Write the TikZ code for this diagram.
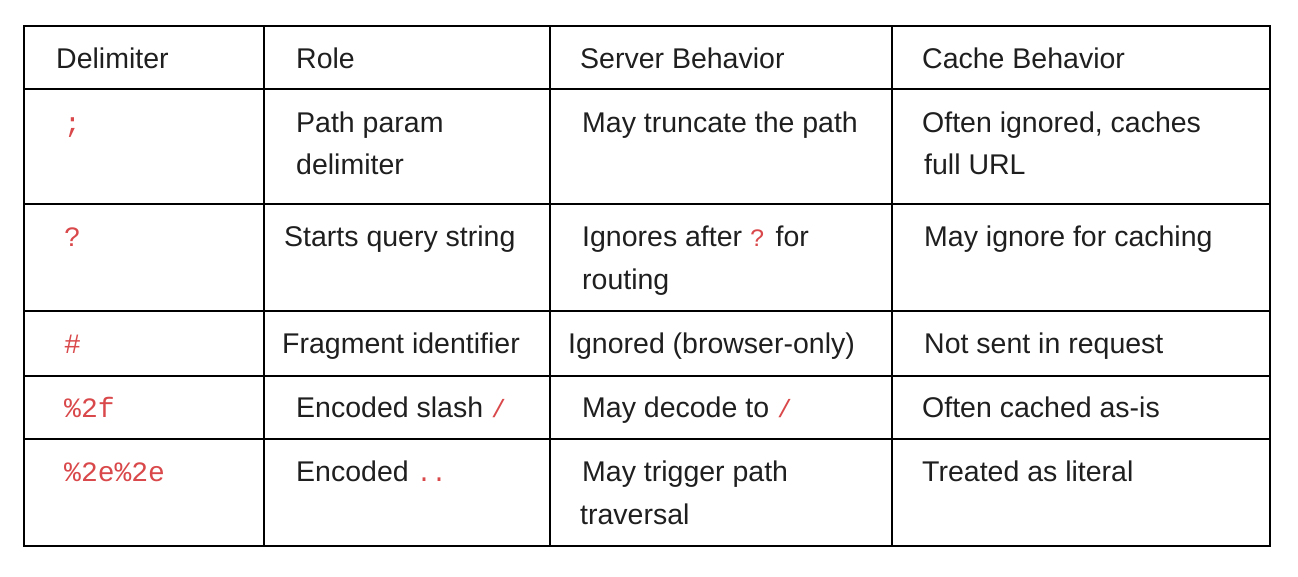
\documentclass[tikz,border=0pt]{standalone}
\usepackage{fontspec}
\setmainfont{Liberation Sans}
\setmonofont{Liberation Mono}
\definecolor{codered}{HTML}{D9484A}
\newcommand{\cd}[1]{{\ttfamily\fontsize{25}{28}\selectfont\color{codered}#1}}
\newcommand{\cdb}[1]{{\ttfamily\fontsize{28}{30}\selectfont\color{codered}#1}}
\begin{document}
\begin{tikzpicture}[x=1pt,y=-1pt,
  cell/.style={anchor=base west,inner sep=0pt,font=\fontsize{28.5}{32}\selectfont,text=black!88},
  grid/.style={draw=black,line width=1.6pt}]
\useasboundingbox (0,0) rectangle (1298,576);
\draw[grid] (24,26) rectangle (1270,546);
\foreach \x in {264,550,892} \draw[grid] (\x,26) -- (\x,546);
\foreach \y in {89,204,311,376,439} \draw[grid] (24,\y) -- (1270,\y);
% header
\node[cell] (h1) at (56,68) {Delimiter};
\node[cell] (h2) at (296,68) {Role};
\node[cell] (h3) at (580,68) {Server Behavior};
\node[cell] (h4) at (922,68) {Cache Behavior};
% row 1
\node[cell] (a1) at (64,132) {\cdb{;}};
\node[cell] (a2) at (296,132) {Path param};
\node[cell] (a2b) at (296,174) {delimiter};
\node[cell] (a3) at (582,132) {May truncate the path};
\node[cell] (a4) at (922,132) {Often ignored, caches};
\node[cell] (a4b) at (924,174) {full URL};
% row 2
\node[cell] (b1) at (64,246) {\cdb{?}};
\node[cell] (b2) at (284,246) {Starts query string};
\node[cell] (b3) at (582,246) {Ignores after \cd{?} for};
\node[cell] (b3b) at (582,289) {routing};
\node[cell] (b4) at (924,246) {May ignore for caching};
% row 3
\node[cell] (c1) at (64,353) {\cdb{\#}};
\node[cell] (c2) at (282,353) {Fragment identifier};
\node[cell] (c3) at (568,353) {Ignored (browser-only)};
\node[cell] (c4) at (924,353) {Not sent in request};
% row 4
\node[cell] (d1) at (64,417) {\cdb{\%2f}};
\node[cell] (d2) at (296,417) {Encoded slash \cd{/}};
\node[cell] (d3) at (582,417) {May decode to \cd{/}};
\node[cell] (d4) at (922,417) {Often cached as-is};
% row 5
\node[cell] (e1) at (64,481) {\cdb{\%2e\%2e}};
\node[cell] (e2) at (296,481) {Encoded \cd{..}};
\node[cell] (e3) at (582,481) {May trigger path};
\node[cell] (e3b) at (580,524) {traversal};
\node[cell] (e4) at (922,481) {Treated as literal};
\end{tikzpicture}
\end{document}
